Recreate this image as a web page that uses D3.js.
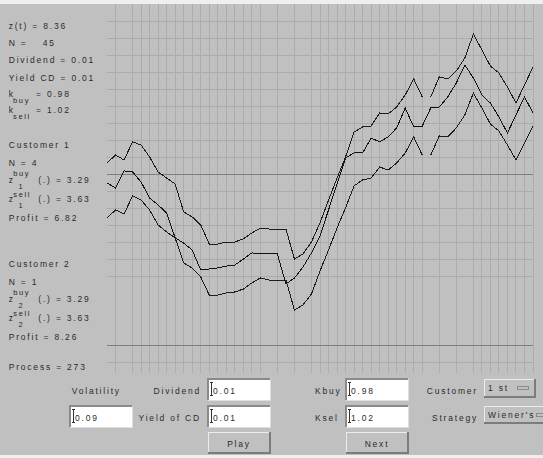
<!DOCTYPE html>
<html>
<head>
<meta charset="utf-8">
<script src="https://cdn.jsdelivr.net/npm/d3@7"></script>
<style>
body { margin: 0; background: #c0c0c0; }
svg { display: block; }
text { font-family: "Liberation Sans", Arial, sans-serif; font-size: 8.5px; letter-spacing: 1.8px; fill: #2b2b2b; }
text.glyph { letter-spacing: 0; }
text.small { font-size: 7.5px; letter-spacing: 1.6px; }
</style>
</head>
<body>
<div id="applet"></div>
<script>
// process z(t) over the visible time steps, with the upper and lower band
var zMid = [9.50, 9.21, 10.21, 10.15, 9.56, 8.62, 8.21, 7.74, 6.28, 5.98,
            5.57, 4.40, 4.46, 4.52, 4.63, 4.69, 5.04, 5.40, 5.34, 5.34,
            5.34, 3.58, 3.93, 4.57, 5.40, 6.39, 7.92, 9.44, 10.97, 11.26,
            11.26, 12.14, 11.91, 12.20, 12.73, 13.90, 12.79, 12.84, 13.90, 13.96,
            14.55, 15.37, 16.42, 15.66, 14.66, 14.19, 13.37, 12.43, 13.49, 14.55,
            13.61];
var zUp = [10.67, 11.14, 10.85, 11.91, 11.73, 11.03, 10.15, 9.79, 9.44, 7.80,
           7.51, 7.04, 5.92, 5.92, 6.04, 6.04, 6.22, 6.57, 6.86, 6.80,
           6.80, 6.80, 5.04, 5.34, 6.04, 7.16, 8.50, 9.79, 11.03, 12.49,
           12.79, 12.84, 13.61, 13.55, 13.96, 14.66, 15.60, 14.55, 14.55, 15.72,
           15.60, 16.07, 16.83, 18.24, 17.30, 16.36, 15.95, 15.13, 14.19, 15.25,
           16.30];
var zLow = [7.45, 7.92, 7.68, 8.74, 8.50, 7.92, 7.04, 6.63, 6.28, 4.81,
            4.52, 3.99, 2.93, 2.93, 3.05, 3.11, 3.28, 3.64, 3.93, 3.81,
            3.81, 3.81, 2.05, 2.35, 2.99, 4.34, 5.57, 6.86, 8.04, 9.33,
            9.68, 9.79, 10.44, 10.26, 10.67, 11.26, 12.20, 11.14, 11.14, 12.26,
            12.20, 12.73, 13.49, 14.78, 13.90, 12.96, 12.55, 11.73, 10.85, 11.85,
            12.84];
// the bands are not joined after these steps
var bandBreaks = [37];

// grid: time steps with a vertical line, levels with a horizontal line
var gridSteps = [1, 3, 4, 5, 6, 7, 8, 9, 10, 11, 12, 13, 14, 15, 16, 17, 18,
                 20, 22, 24, 25, 26, 27, 28, 29, 30, 31, 32, 33, 34, 35, 36, 37,
                 39, 41, 43, 44, 45, 46, 47, 48, 49, 50];
var gridLevels = [-1, 4, 5, 6, 7, 8, 9, 11, 12, 13, 14, 15, 16, 17, 18, 19];
var markLevels = [0, 10];

// texts of the left panel
var stateText = ["z(t) = 8.36", "Dividend = 0.01", "Yield CD = 0.01"];
var stateN = "45";
var kBuy = "= 0.98", kSell = "= 1.02";
var customers = [
  {name: "Customer 1", n: "N = 4", idx: "1", zbuy: "(.) = 3.29", zsell: "(.) = 3.63", profit: "Profit = 6.82"},
  {name: "Customer 2", n: "N = 1", idx: "2", zbuy: "(.) = 3.29", zsell: "(.) = 3.63", profit: "Profit = 8.26"}
];
var processText = "Process = 273";

// controls
var fieldLabels = ["Volatility", "Dividend", "Yield of CD", "Kbuy", "Ksel", "Customer", "Strategy"];
var fieldValues = {volatility: "0.09", dividend: "0.01", yieldCD: "0.01", kbuy: "0.98", ksell: "1.02"};
var choiceValues = ["1 st", "Wiener's"];
var buttonLabels = ["Play", "Next"];

var W = 543, H = 458;
var svg = d3.select("#applet").append("svg")
    .attr("width", W)
    .attr("height", H);

svg.append("rect").attr("width", W).attr("height", H).attr("fill", "#c0c0c0");
svg.append("rect").attr("width", W).attr("height", 4).attr("fill", "#efefef");
svg.append("rect").attr("y", 455).attr("width", W).attr("height", 3).attr("fill", "#efefef");

// scales
var x = d3.scaleLinear().domain([0, 50]).range([107, 533]);
var y = d3.scaleLinear().domain([0, 19]).range([345, 21]);

var grid = svg.append("g").attr("shape-rendering", "crispEdges");

grid.selectAll(".vgrid")
    .data(gridSteps)
  .enter().append("line")
    .attr("x1", function(d) { return x(d); })
    .attr("x2", function(d) { return x(d); })
    .attr("y1", y(20))
    .attr("y2", y(-1.65))
    .attr("stroke", "#acacac");

grid.selectAll(".hgrid")
    .data(gridLevels)
  .enter().append("line")
    .attr("x1", x(0))
    .attr("x2", x(50))
    .attr("y1", function(d) { return y(d); })
    .attr("y2", function(d) { return y(d); })
    .attr("stroke", "#acacac");

grid.selectAll(".mark")
    .data(markLevels)
  .enter().append("line")
    .attr("x1", x(0))
    .attr("x2", x(50))
    .attr("y1", function(d) { return y(d); })
    .attr("y2", function(d) { return y(d); })
    .attr("stroke", "#7e7e7e");

// lines
var valueline = d3.line()
    .x(function(d) { return x(d.step); })
    .y(function(d) { return y(d.value); });

function toPoints(values) {
  return values.map(function(v, i) { return {step: i, value: v}; });
}

// split a band where it is not joined
function pieces(values) {
  var out = [], cur = [];
  values.forEach(function(v, i) {
    cur.push({step: i, value: v});
    if (bandBreaks.indexOf(i) >= 0) { out.push(cur); cur = []; }
  });
  out.push(cur);
  return out;
}

var lines = svg.append("g")
    .attr("fill", "none")
    .attr("stroke-width", 1)
    .attr("shape-rendering", "crispEdges");

[zUp, zLow].forEach(function(band) {
  lines.selectAll(null)
      .data(pieces(band))
    .enter().append("path")
      .attr("stroke", "#1c1c1c")
      .attr("d", valueline);
});

lines.append("path")
    .data([toPoints(zMid)])
    .attr("stroke", "#111")
    .attr("d", valueline);

// left panel
var panel = svg.append("g");
var rowY = [29, 63.3, 80.7];
stateText.forEach(function(t, i) {
  panel.append("text").attr("x", 8.7).attr("y", rowY[i]).text(t);
});
panel.append("text").attr("x", 8.7).attr("y", 46).text("N =");
panel.append("text").attr("x", 42.7).attr("y", 46).text(stateN);

// symbol with optional superscript and a subscript, then the rest of the line
function symbol(g, main, sup, supDy, subs, xx, yy, rest) {
  g.append("text").attr("class", "glyph").attr("x", xx).attr("y", yy).text(main);
  if (sup) g.append("text").attr("class", "small").attr("x", xx + 4.6).attr("y", yy - supDy).text(sup);
  g.append("text").attr("class", "small").attr("x", xx + (sup ? 9.8 : 4.4)).attr("y", yy + 6).text(subs);
  g.append("text").attr("x", xx + (sup ? 29.6 : 27.3)).attr("y", yy).text(rest);
}
symbol(panel, "k", null, 0, "buy", 8.7, 96.5, kBuy);
symbol(panel, "k", null, 0, "sell", 8.7, 113.3, kSell);

var blockY = [148.3, 267.3];
customers.forEach(function(c, i) {
  var y0 = blockY[i];
  panel.append("text").attr("x", 8.7).attr("y", y0).text(c.name);
  panel.append("text").attr("x", 8.7).attr("y", y0 + 17.4).text(c.n);
  symbol(panel, "z", "buy", 6.6, c.idx, 8.7, y0 + 34.7, c.zbuy);
  symbol(panel, "z", "sell", 5, c.idx, 8.7, y0 + 53.8, c.zsell);
  panel.append("text").attr("x", 8.7).attr("y", y0 + 72.2).text(c.profit);
});
panel.append("text").attr("x", 8.7).attr("y", 370).text(processText);

// controls
var ctl = svg.append("g").attr("shape-rendering", "crispEdges");

function field(x0, y0, w, h, value) {
  ctl.append("rect").attr("x", x0).attr("y", y0).attr("width", w).attr("height", h).attr("fill", "#fff");
  ctl.append("path").attr("d", "M" + x0 + "," + (y0 + h) + "V" + y0 + "H" + (x0 + w))
      .attr("fill", "none").attr("stroke", "#8a8a8a").attr("stroke-width", 2);
  ctl.append("path").attr("d", "M" + (x0 + w) + "," + y0 + "V" + (y0 + h) + "H" + x0)
      .attr("fill", "none").attr("stroke", "#dedede").attr("stroke-width", 1);
  // text cursor
  var cx = x0 + 3.5;
  ctl.append("path")
      .attr("d", "M" + (cx - 1.5) + "," + (y0 + 3) + "H" + (cx + 1.5) + "M" + cx + "," + (y0 + 3) + "V" + (y0 + 16) +
                 "M" + (cx - 1.5) + "," + (y0 + 16) + "H" + (cx + 1.5))
      .attr("fill", "none").attr("stroke", "#333").attr("stroke-width", 1);
  svg.append("text").attr("x", x0 + 5).attr("y", y0 + 14.5).text(value);
}

function raised(x0, y0, w, h) {
  ctl.append("rect").attr("x", x0).attr("y", y0).attr("width", w).attr("height", h).attr("fill", "#c0c0c0");
  ctl.append("path").attr("d", "M" + x0 + "," + (y0 + h) + "V" + y0 + "H" + (x0 + w))
      .attr("fill", "none").attr("stroke", "#ececec").attr("stroke-width", 1);
  ctl.append("path").attr("d", "M" + (x0 + w) + "," + y0 + "V" + (y0 + h) + "H" + x0)
      .attr("fill", "none").attr("stroke", "#7c7c7c").attr("stroke-width", 1.5);
}

function button(x0, y0, w, h, label) {
  raised(x0, y0, w, h);
  svg.append("text").attr("x", x0 + w / 2).attr("y", y0 + 14.5).attr("text-anchor", "middle").text(label);
}

function choice(x0, y0, w, h, label) {
  raised(x0, y0, w, h);
  svg.append("text").attr("x", x0 + 4).attr("y", y0 + 11.5).text(label);
  var bx = x0 + w - 18;
  ctl.append("rect").attr("x", bx).attr("y", y0 + 7).attr("width", 11).attr("height", 3)
      .attr("fill", "#c0c0c0").attr("stroke", "#7c7c7c").attr("stroke-width", 0.8);
}

// labels
svg.append("text").attr("x", 71.7).attr("y", 394).text(fieldLabels[0]);
svg.append("text").attr("x", 201).attr("y", 394).attr("text-anchor", "end").text(fieldLabels[1]);
svg.append("text").attr("x", 201).attr("y", 420.7).attr("text-anchor", "end").text(fieldLabels[2]);
svg.append("text").attr("x", 315).attr("y", 394).text(fieldLabels[3]);
svg.append("text").attr("x", 315).attr("y", 420.7).text(fieldLabels[4]);
svg.append("text").attr("x", 478).attr("y", 394).attr("text-anchor", "end").text(fieldLabels[5]);
svg.append("text").attr("x", 478).attr("y", 420.7).attr("text-anchor", "end").text(fieldLabels[6]);

field(70, 406, 62, 21, fieldValues.volatility);
field(208, 379, 62, 21, fieldValues.dividend);
field(208, 406, 62, 21, fieldValues.yieldCD);
field(346, 379, 62, 21, fieldValues.kbuy);
field(346, 406, 62, 21, fieldValues.ksell);

button(208, 432, 62, 21, buttonLabels[0]);
button(346, 432, 62, 21, buttonLabels[1]);

choice(484, 379, 51, 18, choiceValues[0]);
choice(484, 406, 70, 17, choiceValues[1]);
</script>
</body>
</html>
